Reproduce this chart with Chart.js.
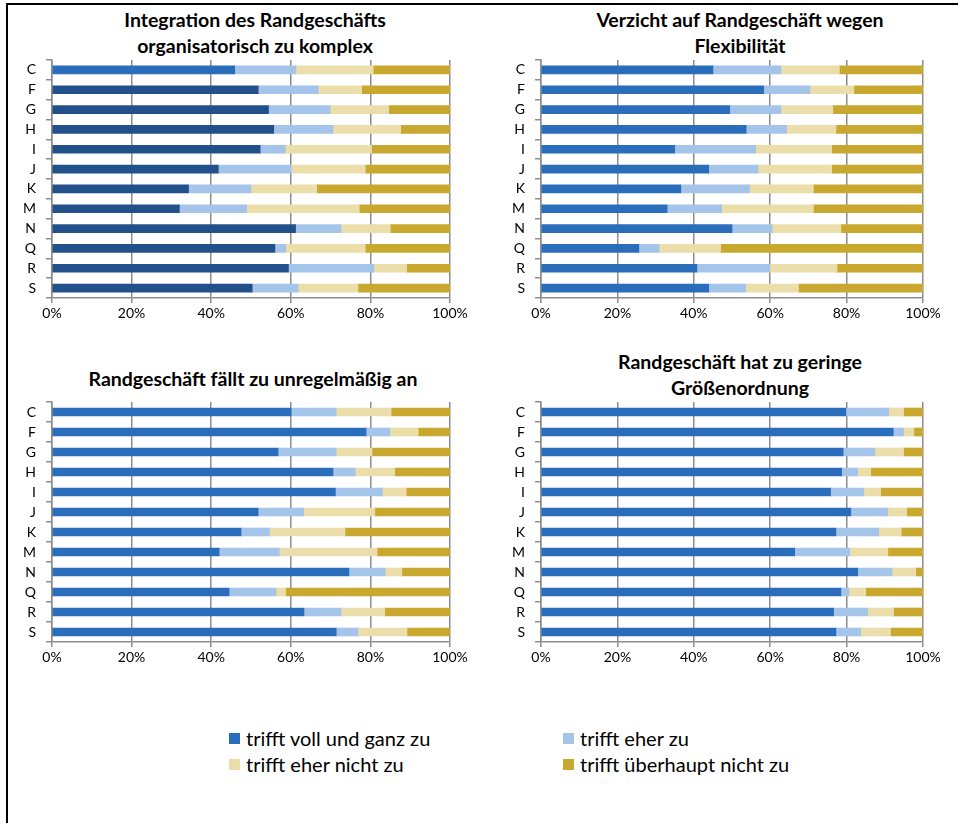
<!DOCTYPE html>
<html lang="de">
<head>
<meta charset="UTF-8">
<title>Randgeschäft</title>
<style>
body {
    margin: 0;
    background: #fff;
    overflow: hidden;
    font-family: Lato, sans-serif;
    color: #000;
}
#frame {
    position: absolute;
    left: 6px;
    top: 3px;
    width: 1000px;
    height: 1000px;
    border-left: 2px solid #000;
    border-top: 2px solid #000;
}
.box { position: absolute; }
.title {
    position: absolute;
    text-align: center;
    font-weight: bold;
    font-size: 19.5px;
    line-height: 26px;
    white-space: nowrap;
}
.leg {
    position: absolute;
    font-size: 20px;
    line-height: 26px;
    white-space: nowrap;
}
.sw {
    position: absolute;
    width: 11px;
    height: 11px;
}
</style>
</head>
<body>
<div id="frame"></div>

<div class="title" style="left:0; top:7px; width:510px;">Integration des Randgeschäfts<br>organisatorisch zu komplex</div>
<div class="title" style="left:490px; top:7px; width:500px;">Verzicht auf Randgeschäft wegen<br>Flexibilität</div>
<div class="title" style="left:0; top:366px; width:506px;">Randgeschäft fällt zu unregelmäßig an</div>
<div class="title" style="left:490px; top:349px; width:500px;">Randgeschäft hat zu geringe<br>Größenordnung</div>

<div class="box" style="left:0; top:0;"><canvas id="c1" width="490" height="340"></canvas></div>
<div class="box" style="left:489px; top:0;"><canvas id="c2" width="480" height="340"></canvas></div>
<div class="box" style="left:0; top:340px;"><canvas id="c3" width="490" height="340"></canvas></div>
<div class="box" style="left:489px; top:340px;"><canvas id="c4" width="480" height="340"></canvas></div>

<div id="legend"></div>

<script src="https://cdn.jsdelivr.net/npm/chart.js"></script>
<script>
// Branchen (Kategorien) und Antwortstufen
const categories = ['C', 'F', 'G', 'H', 'I', 'J', 'K', 'M', 'N', 'Q', 'R', 'S'];
const seriesNames = ['trifft voll und ganz zu', 'trifft eher zu', 'trifft eher nicht zu', 'trifft überhaupt nicht zu'];
const xTicks = [0, 20, 40, 60, 80, 100];

// Integration des Randgeschäfts organisatorisch zu komplex
const integrationVoll      = [45.9, 51.8, 54.4, 55.7, 52.3, 41.8, 34.3, 32.0, 61.2, 56.0, 59.4, 50.3];
const integrationEher      = [15.4, 15.1, 15.5, 14.9,  6.3, 18.3, 15.7, 16.9, 11.4,  2.7, 21.5, 11.5];
const integrationEherNicht = [19.4, 10.9, 14.7, 17.0, 21.7, 18.6, 16.5, 28.3, 12.4, 20.0,  8.2, 15.1];
const integrationNicht     = [19.3, 22.2, 15.4, 12.4, 19.7, 21.3, 33.5, 22.8, 15.0, 21.3, 10.9, 23.1];

// Verzicht auf Randgeschäft wegen Flexibilität
const flexVoll      = [45.0, 58.3, 49.4, 53.7, 35.0, 43.9, 36.6, 33.0, 50.0, 25.6, 40.8, 43.9];
const flexEher      = [17.8, 12.1, 13.4, 10.6, 21.2, 12.9, 18.0, 14.3, 10.5,  5.3, 19.1,  9.7];
const flexEherNicht = [15.3, 11.5, 13.6, 12.9, 19.9, 19.3, 16.7, 24.0, 18.0, 16.1, 17.6, 13.8];
const flexNicht     = [21.9, 18.1, 23.6, 22.8, 23.9, 23.9, 28.7, 28.7, 21.5, 53.0, 22.5, 32.6];

// Randgeschäft fällt zu unregelmäßig an
const unregVoll      = [60.1, 78.9, 56.8, 70.6, 71.2, 51.8, 47.5, 42.0, 74.6, 44.5, 63.3, 71.4];
const unregEher      = [11.3,  6.0, 14.6,  5.6, 11.8, 11.4,  7.1, 15.1,  9.1, 11.8,  9.3,  5.5];
const unregEherNicht = [13.8,  7.1,  9.0,  9.9,  6.0, 17.9, 19.0, 24.6,  4.2,  2.4, 11.0, 12.3];
const unregNicht     = [14.8,  8.0, 19.6, 13.9, 11.0, 18.9, 26.4, 18.3, 12.1, 41.3, 16.4, 10.8];

// Randgeschäft hat zu geringe Größenordnung
const groesseVoll      = [79.8, 92.2, 79.1, 78.7, 75.8, 81.1, 77.2, 66.4, 82.9, 78.5, 76.6, 77.2];
const groesseEher      = [11.2,  2.7,  8.3,  4.2,  8.7,  9.7, 11.2, 14.4,  9.0,  2.1,  8.9,  6.5];
const groesseEherNicht = [ 3.9,  2.7,  7.5,  3.4,  4.4,  4.9,  5.9, 10.0,  6.2,  4.4,  6.8,  7.8];
const groesseNicht     = [ 5.1,  2.4,  5.1, 13.7, 11.1,  4.3,  5.7,  9.2,  1.9, 15.0,  7.7,  8.5];

const colors = ['#2A6EBB', '#A4C4EA', '#ECDEAA', '#C9A82F'];
const darkBlue = '#21508B';
const gridGray = '#8c8c8c';
const tickFont = { family: 'Lato', size: 14 };

function makeChart(id, values, firstColor, padRight, padTop, padBottom) {
    const datasets = values.map((vals, i) => ({
        label: seriesNames[i],
        data: vals,
        backgroundColor: i === 0 && firstColor ? firstColor : colors[i],
        borderWidth: 0,
        barThickness: 8
    }));
    return new Chart(document.getElementById(id), {
        type: 'bar',
        data: { labels: categories, datasets: datasets },
        options: {
            indexAxis: 'y',
            responsive: false,
            animation: false,
            layout: { padding: { left: 0, right: padRight, top: padTop, bottom: padBottom } },
            plugins: {
                legend: { display: false },
                tooltip: { enabled: false }
            },
            scales: {
                x: {
                    stacked: true,
                    min: 0,
                    max: 100,
                    afterBuildTicks(s) { s.ticks = xTicks.map(v => ({ value: v })); },
                    afterFit(s) { s.height = 30; },
                    ticks: {
                        callback: v => v + '%',
                        color: '#000',
                        font: tickFont,
                        padding: 2,
                        autoSkip: false,
                        maxRotation: 0
                    },
                    grid: { color: gridGray, lineWidth: 1.5, tickLength: 5 },
                    border: { color: gridGray, width: 1.5 }
                },
                y: {
                    stacked: true,
                    afterFit(s) { s.width = 52; },
                    ticks: { color: '#000', font: tickFont, padding: 10 },
                    grid: { drawOnChartArea: false, offset: true, color: gridGray, lineWidth: 1.5, tickLength: 6 },
                    border: { color: gridGray, width: 1.5 }
                }
            }
        }
    });
}

// im ersten Diagramm sind die Balken F bis S dunkler eingefärbt
const firstPanelBlue = categories.map((c, i) => i === 0 ? colors[0] : darkBlue);

makeChart('c1', [integrationVoll, integrationEher, integrationEherNicht, integrationNicht], firstPanelBlue, 40, 60, 12);
makeChart('c2', [flexVoll, flexEher, flexEherNicht, flexNicht], null, 46, 60, 12);
makeChart('c3', [unregVoll, unregEher, unregEherNicht, unregNicht], null, 40, 62, 8);
makeChart('c4', [groesseVoll, groesseEher, groesseEherNicht, groesseNicht], null, 46, 62, 8);

// gemeinsame Legende
const legendPos = [[229, 725], [563, 725], [229, 751], [563, 751]];
const legend = document.getElementById('legend');
seriesNames.forEach((name, i) => {
    const [x, y] = legendPos[i];
    const sw = document.createElement('div');
    sw.className = 'sw';
    sw.style.left = x + 'px';
    sw.style.top = (y + 8) + 'px';
    sw.style.background = colors[i];
    legend.appendChild(sw);
    const t = document.createElement('div');
    t.className = 'leg';
    t.style.left = (x + 17) + 'px';
    t.style.top = y + 'px';
    t.textContent = name;
    legend.appendChild(t);
});
</script>
</body>
</html>
